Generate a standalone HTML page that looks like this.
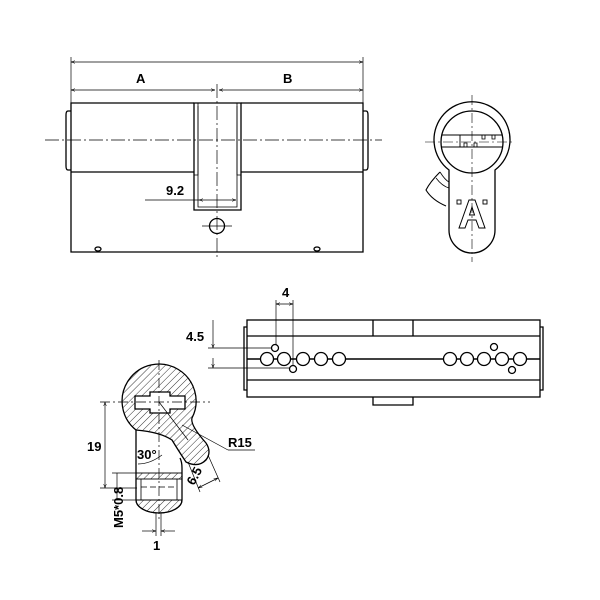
<!DOCTYPE html>
<html><head><meta charset="utf-8"><style>
html,body{margin:0;padding:0;background:#fff}
svg{display:block}
text{font-family:"Liberation Sans",sans-serif;font-weight:bold;fill:#000}
</style></head><body>
<svg width="600" height="600" viewBox="0 0 600 600" xmlns="http://www.w3.org/2000/svg">
<defs>
<pattern id="h" width="5" height="5" patternUnits="userSpaceOnUse" patternTransform="rotate(45)">
<line x1="0" y1="0" x2="0" y2="5" stroke="#000" stroke-width="0.8"/>
</pattern>
<marker id="a" markerWidth="6" markerHeight="6" refX="6" refY="3" orient="auto-start-reverse"><path d="M0,1 L6,3 L0,5" fill="none" stroke="#000" stroke-width="0.7"/></marker>
</defs>
<g fill="none" stroke="#000" stroke-width="1.3">
<!-- top view -->
<g stroke-width="0.7">
<line x1="71" y1="57" x2="71" y2="103"/><line x1="363" y1="57" x2="363" y2="103"/>
<line x1="71" y1="62" x2="363" y2="62" marker-start="url(#a)" marker-end="url(#a)"/>
<line x1="71" y1="90" x2="215" y2="90" marker-start="url(#a)" marker-end="url(#a)"/>
<line x1="219" y1="90" x2="363" y2="90" marker-start="url(#a)" marker-end="url(#a)"/>
<line x1="45" y1="140" x2="382" y2="140" stroke-dasharray="14,3,2,3"/>
<line x1="217" y1="84" x2="217" y2="260" stroke-dasharray="14,3,2,3"/>
<line x1="145" y1="200" x2="199" y2="200"/>
<line x1="199" y1="200" x2="236" y2="200" marker-start="url(#a)" marker-end="url(#a)"/>
<line x1="202" y1="226" x2="232" y2="226"/>
</g>
<path d="M194,103 H71 V252 H363 V103 H241"/>
<line x1="71" y1="172" x2="194" y2="172"/><line x1="241" y1="172" x2="363" y2="172"/>
<path d="M71,111 H68 Q66,111 66,115 V166 Q66,170 68,170 H71"/>
<path d="M363,111 H366 Q368,111 368,115 V166 Q368,170 366,170 H363"/>
<path d="M194,103 V210 H241 V103 Z"/>
<path d="M198,106 V175 H194 M237,106 V175 H241" stroke-width="0.8"/>
<path d="M198,103 V207 H237 V103" stroke-width="0.8"/>
<circle cx="217" cy="226" r="7.5"/>
<ellipse cx="98" cy="249" rx="3" ry="2"/><ellipse cx="317" cy="249" rx="3" ry="2"/>
<!-- front view -->
<path d="M449,170 A38,38 0 1 1 495,170 V230 A23,23 0 0 1 449,230 Z"/>
<circle cx="472" cy="142" r="31"/>
<path d="M442,135 H502 M442,147 H502 M460,135 V147" stroke-width="0.9"/>
<path d="M464,147 v-4 h3 v4 M474,147 v-4 h3 v4 M482,135 v4 h3 v-4 M492,135 v4 h3 v-4" stroke-width="0.8"/>
<line x1="472" y1="95" x2="472" y2="262" stroke-width="0.6" stroke-dasharray="10,3,2,3"/>
<line x1="425" y1="142" x2="512" y2="142" stroke-width="0.6" stroke-dasharray="10,3,2,3"/>
<path d="M440,172 Q430,182 426,190 Q432,200 446,206" stroke-width="1.1"/>
<path d="M440,172 Q445,180 449,182 M436,178 Q442,186 449,188" stroke-width="0.8"/>
<path d="M459,228 L469,200 H475 L485,228 H479 L476,220 H468 L465,228 Z M469.5,215 L472,207 L474.5,215 Z" stroke-width="1"/>
<rect x="457" y="200" width="4" height="4" stroke-width="0.9"/><rect x="483" y="200" width="4" height="4" stroke-width="0.9"/>
<!-- bottom right -->
<rect x="247" y="320" width="293" height="77"/>
<line x1="247" y1="336" x2="540" y2="336"/><line x1="247" y1="380" x2="540" y2="380"/>
<path d="M373,320 V336 M413,320 V336"/>
<path d="M373,397 V405 H413 V397"/>
<path d="M247,327 H244 V390 H247 M540,327 H543 V390 H540"/>
<line x1="247" y1="359" x2="540" y2="359" stroke-width="1.6"/>
<g fill="#fff">
<circle cx="267" cy="359" r="6.5"/><circle cx="284" cy="359" r="6.5"/><circle cx="303" cy="359" r="6.5"/><circle cx="321" cy="359" r="6.5"/><circle cx="339" cy="359" r="6.5"/>
<circle cx="450" cy="359" r="6.5"/><circle cx="467" cy="359" r="6.5"/><circle cx="484" cy="359" r="6.5"/><circle cx="502" cy="359" r="6.5"/><circle cx="520" cy="359" r="6.5"/>
<circle cx="275" cy="348" r="3.5"/><circle cx="293" cy="369" r="3.5"/><circle cx="494" cy="347" r="3.5"/><circle cx="512" cy="370" r="3.5"/>
</g>
<g stroke-width="0.7">
<line x1="276" y1="300" x2="276" y2="345"/><line x1="293" y1="300" x2="293" y2="366"/>
<line x1="276" y1="304" x2="293" y2="304" marker-start="url(#a)" marker-end="url(#a)"/>
<line x1="208" y1="348" x2="272" y2="348"/><line x1="208" y1="368" x2="290" y2="368"/>
<line x1="213" y1="320" x2="213" y2="348" marker-end="url(#a)"/>
<line x1="213" y1="368" x2="213" y2="358" marker-start="url(#a)"/>
</g>
<!-- bottom left -->
<path d="M136,430 A37,37 0 1 1 192,418 Q190,425 206,443 Q212,452 206,460 Q198,468 186,462 Q178,450 172,440 Q160,432 136,430 Z" fill="url(#h)"/>
<path d="M136,430 V500 A23,13 0 0 0 182,500 V468 Q182,462 180,458"/>
<path d="M136,500 A23,13 0 0 0 182,500 Z" fill="url(#h)" stroke-width="1"/>
<rect x="136" y="473" width="46" height="6" fill="url(#h)" stroke-width="0.9"/>
<path d="M141,479 V500 M177,479 V500" stroke-width="0.8"/>
<path d="M135,396 H150 V392 H170 V396 H185 V409 H170 V413 H150 V409 H135 Z" fill="#fff"/>
<g stroke-width="0.7">
<line x1="100" y1="402" x2="210" y2="402" stroke-dasharray="10,3,2,3"/>
<line x1="159" y1="360" x2="159" y2="520" stroke-dasharray="10,3,2,3"/>
<line x1="159" y1="402" x2="188" y2="440"/>
<line x1="141" y1="487" x2="177" y2="487" stroke-dasharray="6,3"/>
<line x1="100" y1="488" x2="137" y2="488"/>
<line x1="105" y1="402" x2="105" y2="488" marker-start="url(#a)" marker-end="url(#a)"/>
<line x1="112" y1="473" x2="136" y2="473"/><line x1="112" y1="500" x2="136" y2="500"/>
<line x1="117" y1="473" x2="117" y2="500"/>
<line x1="156" y1="513" x2="156" y2="536"/><line x1="161" y1="513" x2="161" y2="536"/>
<line x1="142" y1="531" x2="156" y2="531" marker-end="url(#a)"/><line x1="175" y1="531" x2="161" y2="531" marker-end="url(#a)"/>
<line x1="182" y1="425" x2="228" y2="450"/><line x1="228" y1="450" x2="255" y2="450"/>
<path d="M138,464 Q150,464 162,455"/>
<line x1="188" y1="462" x2="200" y2="492"/><line x1="208" y1="455" x2="220" y2="482"/>
<line x1="198" y1="488" x2="218" y2="478" marker-start="url(#a)" marker-end="url(#a)"/>
</g>
</g>
<g font-size="13">
<text x="136" y="83">A</text><text x="283" y="83">B</text>
<text x="166" y="195">9.2</text>
<text x="282" y="297">4</text>
<text x="186" y="341">4.5</text>
<text x="87" y="451">19</text>
<text x="228" y="447">R15</text>
<text x="137" y="459">30°</text>
<text x="153" y="550">1</text>
<text transform="translate(123,528) rotate(-90)">M5*0.8</text>
<text transform="translate(194,486) rotate(-62)">6.5</text>
</g>
</svg>
</body></html>
